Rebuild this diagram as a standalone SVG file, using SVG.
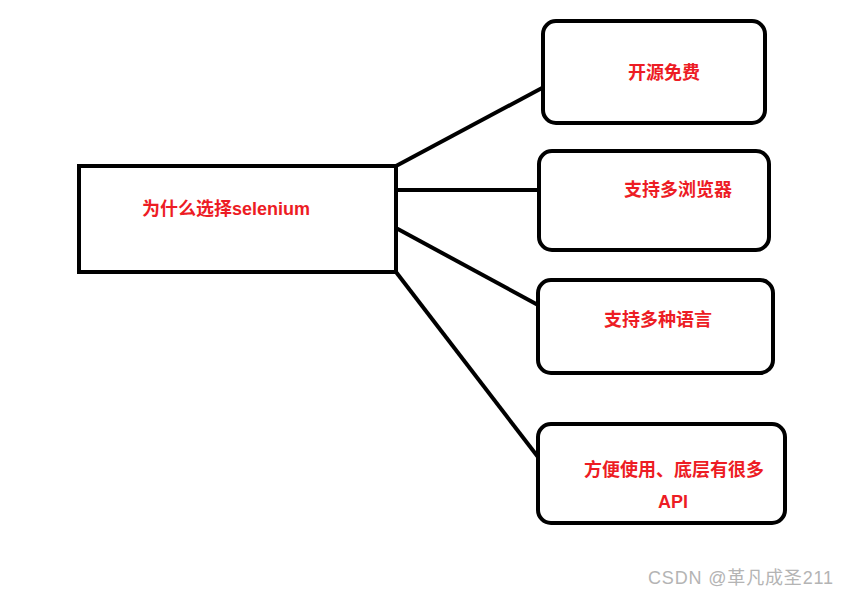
<svg xmlns="http://www.w3.org/2000/svg" width="850" height="596" viewBox="0 0 850 596">
<style>
.box{fill:#fff;stroke:#000;stroke-width:4}
.ln{stroke:#000;stroke-width:4;fill:none}
.t{font-family:"Liberation Sans","Noto Sans CJK SC",sans-serif;font-weight:bold;font-size:18px;fill:#ed1c24}
.wm{font-family:"Liberation Sans","Noto Sans CJK SC",sans-serif;font-size:18px;fill:#b4b4b4}
</style>
<rect width="850" height="596" fill="#fff"/>
<g id="connectors">
<line class="ln" x1="396" y1="166" x2="542" y2="88"/>
<line class="ln" x1="396" y1="190" x2="539" y2="190"/>
<line class="ln" x1="396" y1="228" x2="538" y2="305"/>
<line class="ln" x1="396" y1="272" x2="538" y2="457"/>
</g>
<g id="main">
<rect class="box" x="79" y="166" width="317" height="106"/>
<text class="t" x="142" y="215">为什么选择selenium</text>
</g>
<g id="n1">
<rect class="box" x="543" y="21" width="222" height="102" rx="13"/>
<text class="t" x="628" y="79">开源免费</text>
</g>
<g id="n2">
<rect class="box" x="539" y="151" width="230" height="99" rx="13"/>
<text class="t" x="624" y="196">支持多浏览器</text>
</g>
<g id="n3">
<rect class="box" x="538" y="280" width="235" height="93" rx="13"/>
<text class="t" x="604" y="326">支持多种语言</text>
</g>
<g id="n4">
<rect class="box" x="538" y="424" width="247" height="99" rx="13"/>
<text class="t" x="584" y="476">方便使用、底层有很多</text>
<text class="t" x="658" y="508">API</text>
</g>
<text class="wm" x="648" y="584" textLength="185">CSDN @革凡成圣211</text>
</svg>
